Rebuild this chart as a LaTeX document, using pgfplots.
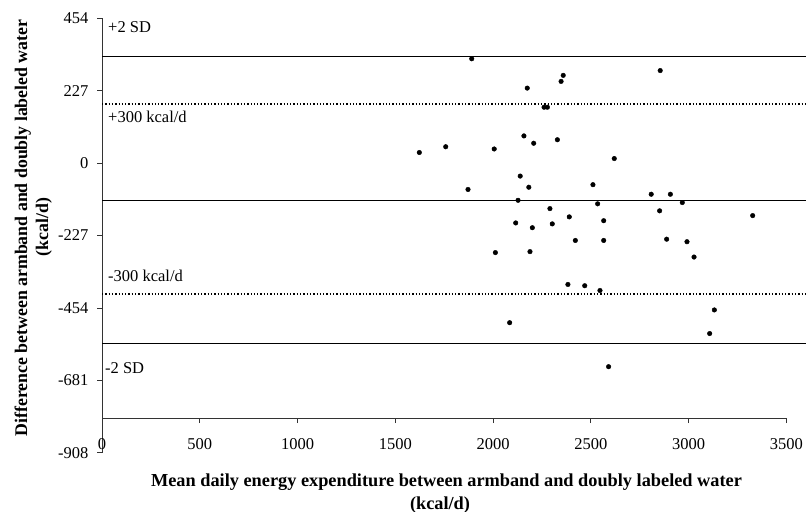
\documentclass[border=0pt]{standalone}
\usepackage{pgfplots}
\pgfplotsset{compat=1.18}
\usepackage{fontspec}
\setmainfont{Liberation Serif}
\begin{document}
\fontsize{16.5bp}{19bp}\selectfont
\begin{tikzpicture}[x=1bp,y=1bp]
\useasboundingbox (0,0) rectangle (806,-512);
% y axis (runs down to -908)
\begin{axis}[at={(102bp,-18.3bp)}, anchor=north west, scale only axis,
  width=684.3bp, height=434.4bp,
  xmin=0, xmax=3500, ymin=-908, ymax=454,
  axis x line=none, axis y line*=left,
  y axis line style={-, line width=0.7bp, black!80},
  ytick={-908,-681,-454,-227,0,227,454},
  yticklabels={-908,-681,-454,-227,0,227,454},
  tick align=outside, major tick length=5bp,
  every tick/.style={black!80, line width=0.7bp},
  yticklabel style={font=\fontsize{16.5bp}{19bp}\selectfont, xshift=-3bp},
]
\addplot[draw=none] coordinates {(1000,0)};
\end{axis}
% x axis (at -800) and data
\begin{axis}[at={(102bp,-18.3bp)}, anchor=north west, scale only axis,
  width=684.3bp, height=399.7bp,
  xmin=0, xmax=3500, ymin=-800, ymax=454,
  axis y line=none, axis x line*=bottom,
  x axis line style={-, line width=0.7bp, black!80},
  xtick={0,500,1000,1500,2000,2500,3000,3500},
  xticklabels={0,500,1000,1500,2000,2500,3000,3500},
  tick align=outside, major tick length=5bp,
  every tick/.style={black!80, line width=0.7bp},
  xticklabel style={font=\fontsize{16.5bp}{19bp}\selectfont, yshift=-10bp},
  clip=false,
]
\addplot[black, line width=0.8bp] coordinates {(0,334) (3600,334)};
\addplot[black, line width=1.3bp, dash pattern=on 1.3bp off 2bp] coordinates {(0,185) (3600,185)};
\addplot[black, line width=0.8bp] coordinates {(0,-116) (3600,-116)};
\addplot[black, line width=1.3bp, dash pattern=on 1.3bp off 2bp] coordinates {(0,-411) (3600,-411)};
\addplot[black, line width=0.8bp] coordinates {(0,-566) (3600,-566)};
\addplot[only marks, mark=*, mark size=2.3bp, black] coordinates {
(1891,327) (2855,290) (2359,275) (2348,256) (2175,235) (2261,175) (2278,175)
(2158,85) (2329,73) (2208,62) (1758,51) (2006,44) (1623,33) (2620,14)
(2511,-68) (2139,-41) (2183,-76) (1872,-83) (2809,-98) (2907,-98)
(2128,-117) (2968,-124) (2535,-128) (2291,-143) (2852,-150) (3328,-165)
(2390,-169) (2566,-181) (2116,-188) (2303,-191) (2201,-203)
(2421,-243) (2566,-243) (2888,-239) (2992,-247) (2012,-281) (2189,-278)
(3028,-295) (2383,-381) (2469,-385) (2547,-400) (3132,-461) (2085,-501)
(3108,-535) (2591,-639)
};
\end{axis}
\node[anchor=base west, inner sep=0] at (108,-32.7) {+2 SD};
\node[anchor=base west, inner sep=0] at (108,-122.7) {+300 kcal/d};
\node[anchor=base west, inner sep=0] at (108,-281.7) {-300 kcal/d};
\node[anchor=base west, inner sep=0] at (105,-373.3) {-2 SD};
\node[rotate=90, anchor=base, inner sep=0, font=\bfseries\fontsize{17.8bp}{21bp}\selectfont] at (27,-228)
  {Difference between armband and doubly labeled water};
\node[rotate=90, anchor=base, inner sep=0, font=\bfseries\fontsize{17.8bp}{21bp}\selectfont] at (48,-227)
  {(kcal/d)};
\node[anchor=base, inner sep=0, font=\bfseries\fontsize{18.3bp}{23bp}\selectfont] at (446.5,-486)
  {Mean daily energy expenditure between armband and doubly labeled water};
\node[anchor=base, inner sep=0, font=\bfseries\fontsize{18.3bp}{23bp}\selectfont] at (440,-509)
  {(kcal/d)};
\end{tikzpicture}
\end{document}
